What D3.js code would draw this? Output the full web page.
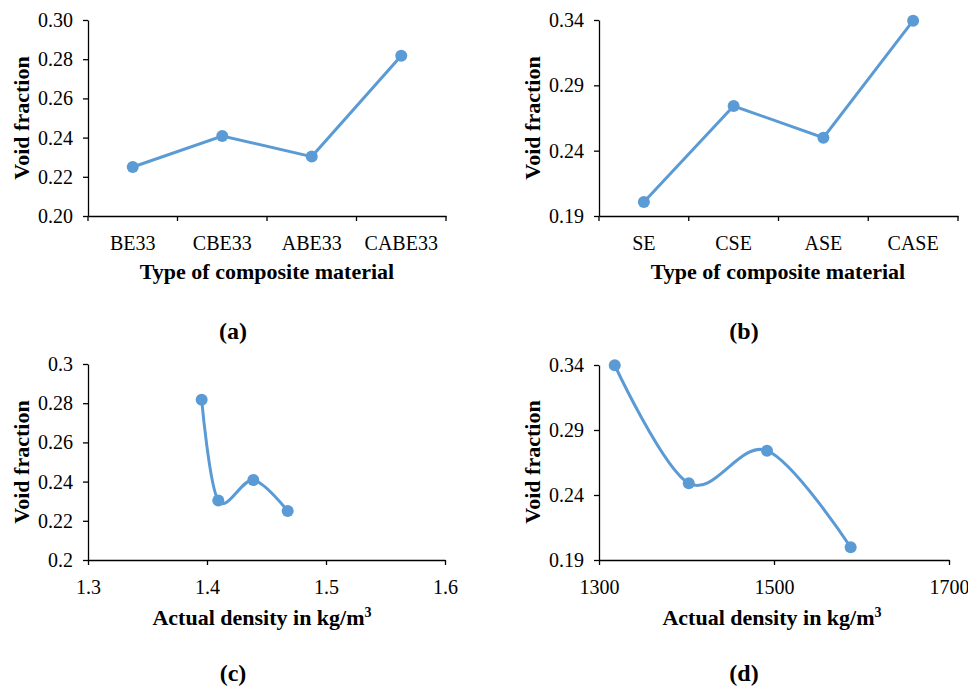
<!DOCTYPE html>
<html lang="en">
<meta charset="UTF-8">
<title>Void fraction</title>
<script src="https://d3js.org/d3.v7.min.js"></script>
<style>
  body { margin:0; background:#fff; }
  svg text { font-family:"Liberation Serif","Times New Roman",serif; fill:#000; }
  .axis path, .axis line { stroke:#000; stroke-width:1.3; }
  .axis text { font-size:20px; }
  .title { font-size:22px; font-weight:bold; }
  .plabel { font-size:24px; font-weight:bold; }
</style>
<body>
<svg width="968" height="687"></svg>
<script>
// (a) composites, categories
var catsA = ["BE33","CBE33","ABE33","CABE33"];
var voidA = [0.225, 0.2408, 0.2303, 0.2818];
var ticksA = [0.20,0.22,0.24,0.26,0.28,0.30];

// (b)
var catsB = ["SE","CSE","ASE","CASE"];
var voidB = [0.2007, 0.2742, 0.2499, 0.3395];
var ticksB = [0.19,0.24,0.29,0.34];

// (c) density vs void fraction
var densC = [1.3955, 1.4095, 1.4389, 1.4678];
var voidC = [0.2818, 0.2303, 0.2408, 0.225];
var ticksCy = [0.2,0.22,0.24,0.26,0.28,0.3];
var ticksCx = [1.3,1.4,1.5,1.6];

// (d)
var densD = [1318, 1402.6, 1492, 1587.6];
var voidD = [0.3398, 0.249, 0.2741, 0.1998];
var ticksDy = [0.19,0.24,0.29,0.34];
var ticksDx = [1300,1500,1700];

var blue = "#5B9BD5";
var svg = d3.select("svg");

function yAxisTitle(cx, cy) {
  svg.append("text").attr("class","title")
    .attr("transform","translate("+cx+","+cy+") rotate(-90)")
    .attr("text-anchor","middle").attr("dy","0.35em")
    .text("Void fraction");
}

function xTitle(cx, y, txt, sup) {
  var t = svg.append("text").attr("class","title")
    .attr("x",cx).attr("y",y).attr("text-anchor","middle").text(txt);
  if (sup) t.append("tspan").attr("dy",-8).style("font-size","14px").text(sup);
}

function plabel(cx, y, txt) {
  svg.append("text").attr("class","plabel")
    .attr("x",cx).attr("y",y).attr("text-anchor","middle").text(txt);
}

function catPanel(x0, x1, y0, y1, cats, vals, ticks, fmt) {
  var x = d3.scaleBand().domain(cats).range([x0,x1]);
  var y = d3.scaleLinear().domain([ticks[0], ticks[ticks.length-1]]).range([y1,y0]);
  svg.append("g").attr("class","axis").attr("transform","translate(0,"+y1+")")
    .call(d3.axisBottom(x).tickSize(0).tickPadding(20))
    .call(function(g){
      // tick marks at category boundaries
      g.selectAll(".bnd").data(cats.concat(["end"])).enter().append("line")
        .attr("x1",function(d,i){ return x0 + i*x.step(); })
        .attr("x2",function(d,i){ return x0 + i*x.step(); })
        .attr("y1",0).attr("y2",5);
    });
  svg.append("g").attr("class","axis").attr("transform","translate("+x0+",0)")
    .call(d3.axisLeft(y).tickValues(ticks).tickFormat(d3.format(fmt)).tickSize(5).tickSizeOuter(0).tickPadding(10));
  var line = d3.line().x(function(d,i){ return x(cats[i]) + x.bandwidth()/2; }).y(function(d){ return y(d); });
  svg.append("path").datum(vals).attr("d",line)
    .attr("fill","none").attr("stroke",blue).attr("stroke-width",3);
  svg.selectAll(null).data(vals).enter().append("circle")
    .attr("cx",function(d,i){ return x(cats[i]) + x.bandwidth()/2; })
    .attr("cy",function(d){ return y(d); })
    .attr("r",6).attr("fill",blue);
}

function xyPanel(x0, x1, y0, y1, xs, ys, xt, yt, xfmt, yfmt) {
  var x = d3.scaleLinear().domain([xt[0], xt[xt.length-1]]).range([x0,x1]);
  var y = d3.scaleLinear().domain([yt[0], yt[yt.length-1]]).range([y1,y0]);
  svg.append("g").attr("class","axis").attr("transform","translate(0,"+y1+")")
    .call(d3.axisBottom(x).tickValues(xt).tickFormat(d3.format(xfmt)).tickSize(5).tickSizeOuter(0).tickPadding(15));
  svg.append("g").attr("class","axis").attr("transform","translate("+x0+",0)")
    .call(d3.axisLeft(y).tickValues(yt).tickFormat(d3.format(yfmt)).tickSize(5).tickSizeOuter(0).tickPadding(10));
  var pts = xs.map(function(d,i){ return [d, ys[i]]; });
  var line = d3.line().curve(d3.curveCatmullRom.alpha(0))
    .x(function(d){ return x(d[0]); }).y(function(d){ return y(d[1]); });
  svg.append("path").datum(pts).attr("d",line)
    .attr("fill","none").attr("stroke",blue).attr("stroke-width",3);
  svg.selectAll(null).data(pts).enter().append("circle")
    .attr("cx",function(d){ return x(d[0]); })
    .attr("cy",function(d){ return y(d[1]); })
    .attr("r",6).attr("fill",blue);
}

// panel (a)
catPanel(88, 446, 20, 216, catsA, voidA, ticksA, ".2f");
yAxisTitle(21, 118);
xTitle(267, 279, "Type of composite material");
plabel(233, 339, "(a)");

// panel (b)
catPanel(599, 958, 20, 216, catsB, voidB, ticksB, ".2f");
yAxisTitle(532, 118);
xTitle(778, 279, "Type of composite material");
plabel(744, 339, "(b)");

// panel (c)
xyPanel(88, 445, 364, 560, densC, voidC, ticksCx, ticksCy, "~g", "~g");
yAxisTitle(21, 462);
xTitle(262, 625, "Actual density in kg/m", "3");
plabel(233, 681, "(c)");

// panel (d)
xyPanel(599, 949, 365, 560, densD, voidD, ticksDx, ticksDy, "d", ".2f");
yAxisTitle(532, 462);
xTitle(772, 625, "Actual density in kg/m", "3");
plabel(744, 681, "(d)");
</script>
</body>
</html>
